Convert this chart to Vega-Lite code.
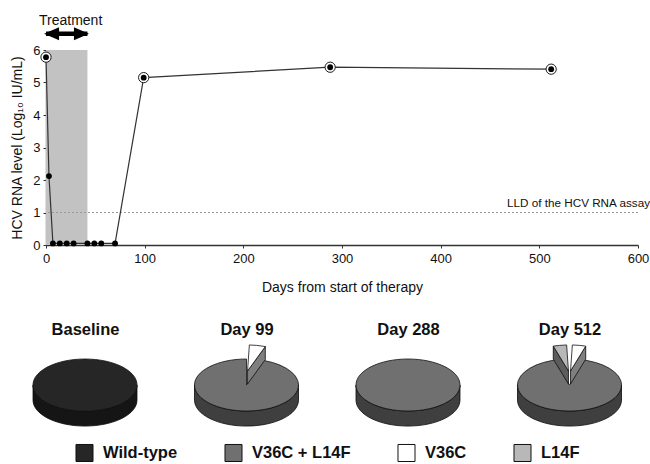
{
  "$schema": "https://vega.github.io/schema/vega-lite/v6.json",
  "background": "white",
  "padding": {"left": 10, "top": 14, "right": 0, "bottom": 0},
  "config": {
    "view": {"stroke": null},
    "font": "Liberation Sans",
    "axis": {"labelFont": "Liberation Sans", "titleFont": "Liberation Sans", "grid": false},
    "legend": {"labelFont": "Liberation Sans"}
  },
  "datasets": {
    "viral": [
      {"day": 0, "log10": 5.78, "sequenced": true},
      {"day": 3, "log10": 2.12, "sequenced": false},
      {"day": 7, "log10": 0.05, "sequenced": false},
      {"day": 14, "log10": 0.05, "sequenced": false},
      {"day": 21, "log10": 0.05, "sequenced": false},
      {"day": 28, "log10": 0.05, "sequenced": false},
      {"day": 42, "log10": 0.05, "sequenced": false},
      {"day": 49, "log10": 0.05, "sequenced": false},
      {"day": 56, "log10": 0.05, "sequenced": false},
      {"day": 70, "log10": 0.05, "sequenced": false},
      {"day": 99, "log10": 5.15, "sequenced": true},
      {"day": 288, "log10": 5.47, "sequenced": true},
      {"day": 512, "log10": 5.41, "sequenced": true}
    ],
    "treatment": [{"period": "Treatment", "start": 0, "end": 42}],
    "lld": [{"limit": "LLD of the HCV RNA assay", "log10": 1}],
    "pies": [
      {"timepoint": "Baseline", "genotype": "Wild-type", "part": "side"},
      {"timepoint": "Baseline", "genotype": "Wild-type", "part": "full"},
      {"timepoint": "Day 99", "genotype": "V36C + L14F", "part": "side"},
      {"timepoint": "Day 99", "genotype": "V36C + L14F", "part": "notch99"},
      {"timepoint": "Day 99", "genotype": "V36C", "part": "cut99"},
      {"timepoint": "Day 99", "genotype": "V36C", "part": "wedge99"},
      {"timepoint": "Day 288", "genotype": "V36C + L14F", "part": "side"},
      {"timepoint": "Day 288", "genotype": "V36C + L14F", "part": "full"},
      {"timepoint": "Day 512", "genotype": "V36C + L14F", "part": "side"},
      {"timepoint": "Day 512", "genotype": "V36C + L14F", "part": "notch512"},
      {"timepoint": "Day 512", "genotype": "L14F", "part": "cutL512"},
      {"timepoint": "Day 512", "genotype": "L14F", "part": "wedgeL512"},
      {"timepoint": "Day 512", "genotype": "V36C", "part": "cutR512"},
      {"timepoint": "Day 512", "genotype": "V36C", "part": "wedgeR512"}
    ]
  },
  "spacing": 27,
  "vconcat": [
    {
      "width": 592,
      "height": 195,
      "encoding": {
        "x": {"type": "quantitative", "scale": {"domain": [0, 600], "nice": false},
          "axis": {"title": "Days from start of therapy", "values": [0, 100, 200, 300, 400, 500, 600], "grid": false,
            "tickSize": 3, "labelFontSize": 13, "titleFontSize": 14, "titleFontWeight": "normal", "labelPadding": 4,
            "titlePadding": 15, "domainColor": "#333", "domainWidth": 1.3, "tickColor": "#333", "labelColor": "#111",
            "titleColor": "#111", "labelFlush": false}},
        "y": {"type": "quantitative", "scale": {"domain": [0, 6], "nice": false},
          "axis": {"title": "HCV RNA level (Log₁₀ IU/mL)", "values": [0, 1, 2, 3, 4, 5, 6], "grid": false,
            "tickSize": 3, "labelFontSize": 13, "titleFontSize": 14, "titleFontWeight": "normal", "labelPadding": 3,
            "titlePadding": 8, "domainColor": "#333", "domainWidth": 1.3, "tickColor": "#333", "labelColor": "#111",
            "titleColor": "#111"}}
      },
      "layer": [
        {
          "data": {"name": "treatment"},
          "mark": {"type": "rect", "color": "#c2c2c2"},
          "encoding": {
            "x": {"field": "start"},
            "x2": {"field": "end"},
            "y": {"datum": 0},
            "y2": {"datum": 6}
          }
        },
        {
          "data": {"name": "lld"},
          "mark": {"type": "rule", "color": "#9a9a9a", "strokeDash": [2, 2], "strokeWidth": 1},
          "encoding": {
            "y": {"field": "log10"}
          }
        },
        {
          "data": {"name": "lld"},
          "mark": {"type": "text", "align": "right", "baseline": "bottom", "dx": 12, "dy": -4, "fontSize": 11.7, "color": "#111"},
          "encoding": {
            "x": {"datum": 600},
            "y": {"field": "log10"},
            "text": {"field": "limit"}
          }
        },
        {
          "data": {"name": "viral"},
          "mark": {"type": "line", "color": "#333", "strokeWidth": 1.2},
          "encoding": {
            "x": {"field": "day"},
            "y": {"field": "log10"}
          }
        },
        {
          "data": {"name": "viral"},
          "transform": [{"filter": "datum.sequenced"}],
          "mark": {"type": "circle", "fill": "white", "stroke": "#1a1a1a", "strokeWidth": 1, "size": 105, "opacity": 1},
          "encoding": {
            "x": {"field": "day"},
            "y": {"field": "log10"}
          }
        },
        {
          "data": {"name": "viral"},
          "mark": {"type": "circle", "color": "#000", "size": 34, "opacity": 1},
          "encoding": {
            "x": {"field": "day"},
            "y": {"field": "log10"}
          }
        },
        {
          "data": {"name": "treatment"},
          "mark": {"type": "rule", "color": "#000", "strokeWidth": 4.5},
          "encoding": {
            "x": {"field": "start"},
            "x2": {"field": "end"},
            "y": {"datum": 6.5}
          }
        },
        {
          "data": {"name": "treatment"},
          "mark": {"type": "point", "filled": true, "color": "#000", "opacity": 1, "size": 900, "shape": "M -0.13 0 L 0.87 -0.43 L 0.87 0.43 Z"},
          "encoding": {
            "x": {"field": "start"},
            "y": {"datum": 6.5}
          }
        },
        {
          "data": {"name": "treatment"},
          "mark": {"type": "point", "filled": true, "color": "#000", "opacity": 1, "size": 900, "shape": "M 0.1 0 L -0.9 -0.43 L -0.9 0.43 Z"},
          "encoding": {
            "x": {"field": "end"},
            "y": {"datum": 6.5}
          }
        },
        {
          "data": {"name": "treatment"},
          "mark": {"type": "text", "align": "left", "baseline": "middle", "dx": -7, "fontSize": 14, "color": "#111"},
          "encoding": {
            "x": {"field": "start"},
            "y": {"datum": 6.88},
            "text": {"field": "period"}
          }
        }
      ]
    },
    {
      "width": 562.5,
      "height": 80,
      "data": {"name": "pies"},
      "encoding": {
        "x": {"field": "timepoint", "type": "nominal", "sort": ["Baseline", "Day 99", "Day 288", "Day 512"],
          "scale": {"type": "point", "padding": 0.2415},
          "axis": {"orient": "top", "title": null, "domain": false, "ticks": false, "tickSize": 0, "labelAngle": 0,
            "labelFontSize": 16.5, "labelFontWeight": "bold", "labelColor": "#111", "labelPadding": 8}},
        "shape": {"field": "part", "type": "nominal", "legend": null,
          "scale": {
            "domain": ["side", "full", "notch99", "notch512", "cut99", "wedge99", "cutL512", "wedgeL512", "cutR512", "wedgeR512"],
            "range": [
              "M -1 0 L -1 0.29 C -1 0.566 -0.552 0.79 0 0.79 C 0.552 0.79 1 0.566 1 0.29 L 1 0 C 1 0.276 0.552 0.5 0 0.5 C -0.552 0.5 -1 0.276 -1 0 Z",
              "M -1 0 C -1 -0.276 -0.552 -0.5 0 -0.5 C 0.552 -0.5 1 -0.276 1 0 C 1 0.276 0.552 0.5 0 0.5 C -0.552 0.5 -1 0.276 -1 0 Z",
              "M 0 0 L 0.342 -0.47 L 0.5 -0.433 L 0.643 -0.383 L 0.766 -0.321 L 0.866 -0.25 L 0.94 -0.171 L 0.985 -0.087 L 0.996 -0.044 L 1 0 C 1 0.276 0.552 0.5 0 0.5 C -0.552 0.5 -1 0.276 -1 0 C -1 -0.276 -0.552 -0.5 0 -0.5 Z",
              "M 0 0 L 0.292 -0.478 L 0.342 -0.47 L 0.5 -0.433 L 0.643 -0.383 L 0.766 -0.321 L 0.866 -0.25 L 0.94 -0.171 L 0.985 -0.087 L 0.996 -0.044 L 1 0 C 1 0.276 0.552 0.5 0 0.5 C -0.552 0.5 -1 0.276 -1 0 L -0.996 -0.044 L -0.985 -0.087 L -0.94 -0.171 L -0.866 -0.25 L -0.766 -0.321 L -0.643 -0.383 L -0.5 -0.433 L -0.342 -0.47 L -0.292 -0.478 Z",
              "M 0.02 -0.27 L 0.362 -0.74 L 0.362 -0.49 L 0.02 -0.02 Z",
              "M 0.02 -0.27 L 0.055 -0.77 L 0.194 -0.762 L 0.362 -0.74 Z",
              "M -0.02 -0.27 L -0.312 -0.748 L -0.312 -0.498 L -0.02 -0.02 Z",
              "M -0.02 -0.27 L -0.055 -0.77 L -0.194 -0.762 L -0.312 -0.748 Z",
              "M 0.02 -0.27 L 0.312 -0.748 L 0.312 -0.498 L 0.02 -0.02 Z",
              "M 0.02 -0.27 L 0.055 -0.77 L 0.194 -0.762 L 0.312 -0.748 Z"
            ]
          }
        }
      },
      "layer": [
        {
          "transform": [{"filter": {"field": "part", "equal": "side"}}],
          "mark": {"type": "point", "filled": true, "size": 10816, "opacity": 1, "stroke": "#111", "strokeWidth": 0.8},
          "encoding": {
            "color": {"field": "genotype", "type": "nominal",
              "scale": {"domain": ["Wild-type", "V36C + L14F", "V36C", "L14F"], "range": ["#262626", "#707070", "#ffffff", "#b8b8b8"]},
              "legend": {"orient": "bottom", "direction": "horizontal", "title": null, "symbolType": "square", "symbolSize": 290,
                "symbolStrokeColor": "#111", "symbolStrokeWidth": 1, "symbolOpacity": 1, "labelFontSize": 16.5, "labelFontWeight": "bold",
                "labelColor": "#111", "labelOffset": 9, "columnPadding": 44, "offset": -14, "padding": 29}}
          }
        },
        {
          "transform": [{"filter": {"field": "part", "equal": "side"}}],
          "mark": {"type": "point", "filled": true, "size": 10816, "color": "#000", "opacity": 0.43, "strokeWidth": 0}
        },
        {
          "transform": [{"filter": {"field": "part", "oneOf": ["full", "notch99", "notch512"]}}],
          "mark": {"type": "point", "filled": true, "size": 10816, "opacity": 1, "stroke": "#111", "strokeWidth": 0.8},
          "encoding": {
            "color": {"field": "genotype", "type": "nominal",
              "scale": {"domain": ["Wild-type", "V36C + L14F", "V36C", "L14F"], "range": ["#262626", "#707070", "#ffffff", "#b8b8b8"]}}
          }
        },
        {
          "transform": [{"filter": {"field": "part", "oneOf": ["cut99", "cutL512", "cutR512"]}}],
          "mark": {"type": "point", "filled": true, "size": 10816, "opacity": 1, "stroke": "#111", "strokeWidth": 0.8},
          "encoding": {
            "color": {"field": "genotype", "type": "nominal",
              "scale": {"domain": ["Wild-type", "V36C + L14F", "V36C", "L14F"], "range": ["#262626", "#707070", "#ffffff", "#b8b8b8"]}}
          }
        },
        {
          "transform": [{"filter": {"field": "part", "oneOf": ["cut99", "cutL512", "cutR512"]}}],
          "mark": {"type": "point", "filled": true, "size": 10816, "color": "#000", "opacity": 0.5, "strokeWidth": 0}
        },
        {
          "transform": [{"filter": {"field": "part", "oneOf": ["wedge99", "wedgeL512", "wedgeR512"]}}],
          "mark": {"type": "point", "filled": true, "size": 10816, "opacity": 1, "stroke": "#111", "strokeWidth": 0.8},
          "encoding": {
            "color": {"field": "genotype", "type": "nominal",
              "scale": {"domain": ["Wild-type", "V36C + L14F", "V36C", "L14F"], "range": ["#262626", "#707070", "#ffffff", "#b8b8b8"]}}
          }
        }
      ]
    }
  ]
}
